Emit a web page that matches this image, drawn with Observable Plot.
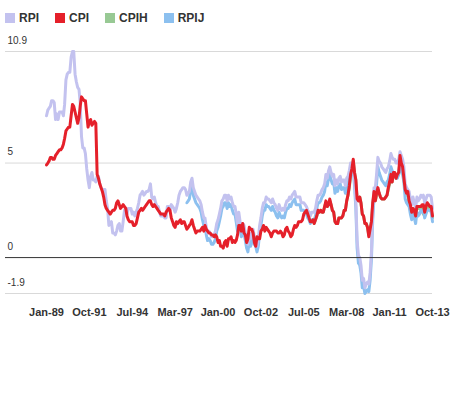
<!DOCTYPE html>
<html>
<head>
<meta charset="utf-8">
<script src="https://cdn.jsdelivr.net/npm/d3@7"></script>
<script src="https://cdn.jsdelivr.net/npm/@observablehq/plot@0.6"></script>
<style>
  html, body { margin: 0; padding: 0; background: #fff; }
  body { font-family: "Liberation Sans", Arial, sans-serif; width: 460px; }
  #legend { height: 36px; display: flex; align-items: center; padding-left: 5px; box-sizing: border-box;
            font-weight: bold; font-size: 12px; color: #333; }
  .item { display: flex; align-items: center; margin-right: 16px; }
  .sw { width: 10px; height: 10px; margin-right: 4px; }
  #chart svg { display: block; }
</style>
</head>
<body>
<div id="legend"></div>
<div id="chart"></div>
<script>
// ---- Data (annual % change, monthly) ----
const seriesNames = ["RPI", "CPI", "CPIH", "RPIJ"];
const seriesColors = ["#c3c2ef", "#e5202a", "#98c994", "#8cc0ef"];

// RPI from Jan 1989
const rpiStart = [1989, 0];
const rpi = [
  7.5,7.8,7.9,8.0,8.3,8.3,8.2,7.3,7.6,7.3,7.7,7.7,
  7.7,7.5,8.1,9.4,9.7,9.8,9.8,10.6,10.9,10.9,9.7,9.3,
  9.0,8.9,8.2,6.4,5.8,5.8,5.5,4.7,4.1,3.7,4.3,4.5,
  4.1,4.1,4.0,4.3,4.3,3.9,3.7,3.6,3.6,3.6,3.0,2.6,
  1.7,1.8,1.9,1.3,1.3,1.2,1.4,1.7,1.8,1.4,1.4,1.9,
  2.5,2.4,2.3,2.6,2.6,2.6,2.3,2.4,2.2,2.4,2.6,2.9,
  3.3,3.4,3.5,3.3,3.4,3.5,3.5,3.6,3.9,3.2,3.1,3.2,
  2.9,2.7,2.7,2.4,2.2,2.2,2.2,2.1,2.1,2.7,2.7,2.5,
  2.8,2.7,2.6,2.4,2.6,2.9,3.3,3.5,3.6,3.7,3.7,3.6,
  3.3,3.4,3.5,4.0,4.2,3.7,3.5,3.3,3.2,3.1,3.0,2.8,
  2.4,2.1,2.1,1.6,1.3,1.4,1.3,1.1,1.1,1.2,1.4,1.8,
  2.0,2.3,2.6,3.0,3.1,3.3,3.3,3.0,3.3,3.1,3.2,2.9,
  2.7,2.7,2.3,1.8,2.4,1.9,1.5,1.8,1.7,1.3,0.9,0.7,
  1.3,1.0,1.2,1.5,1.1,1.0,0.6,1.0,1.7,2.1,2.6,2.9,
  2.9,3.2,3.1,3.1,3.0,2.9,3.1,2.9,2.8,2.6,2.5,2.8,
  2.6,2.5,2.6,2.5,2.8,3.0,3.0,3.2,3.1,3.3,3.4,3.5,
  3.2,3.2,3.2,3.2,2.9,2.9,2.9,2.8,2.7,2.5,2.4,2.2,
  2.4,2.4,2.4,2.6,3.0,3.3,3.3,3.4,3.6,3.7,3.9,4.4,
  4.2,4.6,4.8,4.5,4.3,4.4,3.8,4.1,3.9,4.2,4.3,4.0,
  4.1,4.1,3.8,4.2,4.3,4.6,5.0,4.8,5.0,4.2,3.0,0.9,
  0.1,0.0,-0.4,-1.2,-1.1,-1.6,-1.4,-1.3,-1.4,-0.8,0.3,2.4,
  3.7,3.7,4.4,5.3,5.1,5.0,4.8,4.7,4.6,4.5,4.7,4.8,
  5.1,5.5,5.3,5.2,5.2,5.0,5.0,5.2,5.6,5.4,5.2,4.8,
  3.9,3.7,3.6,3.5,3.1,2.8,3.2,2.9,2.6,3.2,3.0,3.1,
  3.3,3.2,3.3,2.9,3.1,3.3,3.3,3.3,3.2,2.6
];

// CPI from Jan 1989
const cpiStart = [1989, 0];
const cpi = [
  4.9,5.0,5.1,5.3,5.3,5.2,5.2,5.4,5.5,5.6,5.7,5.7,
  5.8,6.0,6.3,6.7,6.8,6.9,6.9,7.5,8.1,8.0,7.7,7.4,
  7.1,7.4,8.0,8.5,8.4,8.3,8.3,7.6,6.9,7.2,7.3,7.0,
  7.1,7.2,7.1,4.4,4.2,3.9,3.7,3.5,3.2,2.8,2.6,2.5,
  2.4,2.3,2.4,2.5,2.5,2.6,2.9,3.0,2.8,2.6,2.7,2.8,
  2.7,2.6,2.2,2.0,1.9,1.9,1.9,1.7,1.7,1.8,2.1,2.4,
  2.5,2.6,2.5,2.6,2.7,2.8,2.9,3.0,3.0,2.8,2.7,2.8,
  2.7,2.6,2.5,2.4,2.3,2.3,2.3,2.2,2.4,2.5,2.6,2.5,
  2.1,1.9,1.7,1.6,1.9,1.8,1.9,2.0,1.8,1.9,1.9,1.7,
  1.5,1.6,1.7,1.8,2.0,1.7,1.5,1.3,1.4,1.4,1.4,1.5,
  1.6,1.4,1.7,1.5,1.4,1.3,1.3,1.2,1.2,1.1,1.2,1.1,
  0.8,0.9,0.6,0.6,0.5,0.8,0.9,0.6,1.0,1.0,1.1,0.8,
  0.9,0.8,0.9,1.2,1.7,1.7,1.4,1.8,1.3,1.2,0.8,1.0,
  1.6,1.5,1.5,1.3,0.8,0.6,1.1,1.0,1.0,1.4,1.5,1.7,
  1.4,1.6,1.5,1.4,1.3,1.1,1.3,1.4,1.4,1.4,1.3,1.3,
  1.4,1.3,1.1,1.2,1.5,1.6,1.4,1.3,1.1,1.2,1.5,1.7,
  1.6,1.7,1.9,1.9,1.9,2.0,2.3,2.4,2.5,2.3,2.1,1.9,
  1.9,2.0,1.8,2.0,2.2,2.5,2.4,2.5,2.4,2.4,2.7,3.0,
  2.7,2.8,3.1,2.8,2.5,2.4,1.9,1.8,1.8,2.1,2.1,2.1,
  2.2,2.5,2.5,3.0,3.3,3.8,4.4,4.7,5.2,4.5,4.1,3.1,
  3.0,3.2,2.9,2.3,2.2,1.8,1.8,1.6,1.1,1.5,1.9,2.9,
  3.5,3.0,3.4,3.7,3.4,3.2,3.1,3.1,3.1,3.2,3.3,3.7,
  4.0,4.4,4.0,4.5,4.5,4.2,4.4,4.5,5.4,5.0,4.8,4.2,
  3.6,3.4,3.5,3.0,2.8,2.4,2.6,2.5,2.2,2.7,2.7,2.7,
  2.7,2.8,2.8,2.4,2.7,2.9,2.8,2.7,2.7,2.2
];

// CPIH from Jan 2006
const cpihStart = [2006, 0];
const cpih = [
  1.9,2.0,1.8,2.0,2.2,2.4,2.4,2.5,2.4,2.4,2.7,2.9,
  2.7,2.8,3.0,2.8,2.5,2.4,1.9,1.8,1.8,2.1,2.1,2.1,
  2.2,2.5,2.5,3.0,3.3,3.7,4.3,4.6,5.1,4.5,4.1,3.1,
  3.0,3.2,2.9,2.3,2.2,1.8,1.8,1.6,1.2,1.5,1.9,2.8,
  3.4,3.0,3.3,3.6,3.4,3.2,3.1,3.1,3.1,3.2,3.3,3.6,
  3.9,4.3,4.0,4.4,4.4,4.2,4.3,4.4,5.1,4.9,4.7,4.1,
  3.5,3.3,3.4,2.9,2.7,2.4,2.5,2.4,2.2,2.6,2.6,2.6,
  2.6,2.6,2.3,2.3,2.5,2.7,2.6,2.6,2.5,2.1
];

// RPIJ from Jan 1998
const rpijStart = [1998, 0];
const rpij = [
  2.9,3.0,3.1,3.6,3.8,3.3,3.1,2.9,2.8,2.7,2.6,2.4,
  2.0,1.7,1.7,1.2,0.9,1.0,0.9,0.7,0.7,0.8,1.0,1.4,
  1.6,1.9,2.2,2.6,2.7,2.9,2.9,2.6,2.9,2.7,2.8,2.5,
  2.3,2.3,1.9,1.4,2.0,1.5,1.1,1.4,1.3,0.9,0.5,0.3,
  0.9,0.6,0.8,1.1,0.7,0.6,0.3,0.6,1.3,1.7,2.2,2.5,
  2.5,2.8,2.7,2.7,2.6,2.5,2.7,2.5,2.4,2.2,2.1,2.4,
  2.2,2.1,2.2,2.1,2.4,2.6,2.6,2.8,2.7,2.9,3.0,3.1,
  2.8,2.8,2.8,2.8,2.5,2.5,2.5,2.4,2.3,2.1,2.0,1.8,
  2.0,2.0,2.0,2.2,2.6,2.9,2.9,3.0,3.2,3.3,3.5,4.0,
  3.8,4.2,4.4,4.1,3.9,4.0,3.4,3.7,3.5,3.8,3.9,3.6,
  3.7,3.7,3.4,3.8,3.9,4.2,4.6,4.4,4.6,3.8,2.6,0.5,
  -0.3,-0.4,-0.8,-1.6,-1.5,-1.9,-1.8,-1.7,-1.8,-1.2,-0.1,2.0,
  3.2,3.2,3.9,4.8,4.5,4.3,4.1,4.0,3.9,3.8,4.0,4.1,
  4.4,4.8,4.6,4.4,4.4,4.2,4.2,4.4,4.9,4.6,4.4,4.0,
  3.1,2.9,2.8,2.7,2.3,2.0,2.4,2.1,1.8,2.4,2.2,2.3,
  2.5,2.4,2.5,2.1,2.3,2.5,2.5,2.5,2.4,1.9
];

const yTicks = [10.9, 5, 0, -1.9];
const gridValues = [10.9, 5, -1.9];
const tickLabels = ["Jan-89","Oct-91","Jul-94","Mar-97","Jan-00","Oct-02","Jul-05","Mar-08","Jan-11","Oct-13"];

// ---- Build table ----
function toRows(name, startYM, values) {
  return values.map((v, i) => ({ name, date: new Date(Date.UTC(startYM[0], startYM[1] + i, 1)), value: v }));
}
const rows = {
  RPI: toRows("RPI", rpiStart, rpi),
  CPI: toRows("CPI", cpiStart, cpi),
  CPIH: toRows("CPIH", cpihStart, cpih),
  RPIJ: toRows("RPIJ", rpijStart, rpij)
};

const tStart = Date.UTC(1989, 0, 1);
const tEnd = Date.UTC(2013, 9, 1);
const tickDates = tickLabels.map((_, i) => new Date(tStart + i * (tEnd - tStart) / (tickLabels.length - 1)));
const labelFor = d => { const k = tickDates.findIndex(t => +t === +d); return k >= 0 ? tickLabels[k] : ""; };

// extend the domain to the left so gridlines run under the y labels
const W = 460, mL = 5, mR = 28, plotStartPx = 46;
const lead = (plotStartPx - mL) / (W - mR - plotStartPx) * (tEnd - tStart);
const domainStart = new Date(tStart - lead);

// ---- Legend ----
const legend = document.getElementById("legend");
seriesNames.forEach((n, i) => {
  const it = document.createElement("div"); it.className = "item";
  const sw = document.createElement("div"); sw.className = "sw"; sw.style.background = seriesColors[i];
  const tx = document.createElement("span"); tx.textContent = n;
  it.appendChild(sw); it.appendChild(tx); legend.appendChild(it);
});

const color = n => seriesColors[seriesNames.indexOf(n)];
const lineOpts = n => ({ x: "date", y: "value", stroke: color(n), strokeWidth: 3, strokeLinejoin: "round", strokeLinecap: "round" });

const chart = Plot.plot({
  width: W,
  height: 300,
  marginLeft: mL,
  marginRight: mR,
  marginTop: 15,
  marginBottom: 43,
  style: { fontFamily: "'Liberation Sans', Arial, sans-serif", color: "#333", background: "#fff" },
  x: { type: "utc", domain: [domainStart, new Date(tEnd)] },
  y: { domain: [-1.9, 10.9] },
  marks: [
    Plot.ruleY(gridValues, { stroke: "#d9d9d9", strokeWidth: 1 }),
    Plot.axisY({ ticks: yTicks, tickSize: 0, tickPadding: 0, textAnchor: "start", dx: 2, dy: -11, fontSize: 10, fill: "#333", label: null, tickFormat: d => String(d) }),
    Plot.axisX({ ticks: tickDates, tickFormat: labelFor, tickSize: 0, tickPadding: 15, fontSize: 11, fontWeight: "bold", fill: "#333", label: null }),
    Plot.line(rows.CPIH, lineOpts("CPIH")),
    Plot.line(rows.RPIJ, lineOpts("RPIJ")),
    Plot.line(rows.RPI, lineOpts("RPI")),
    Plot.line(rows.CPI, lineOpts("CPI")),
    Plot.ruleY([0], { stroke: "#333", strokeWidth: 1 })
  ]
});
document.getElementById("chart").appendChild(chart);
</script>
</body>
</html>
